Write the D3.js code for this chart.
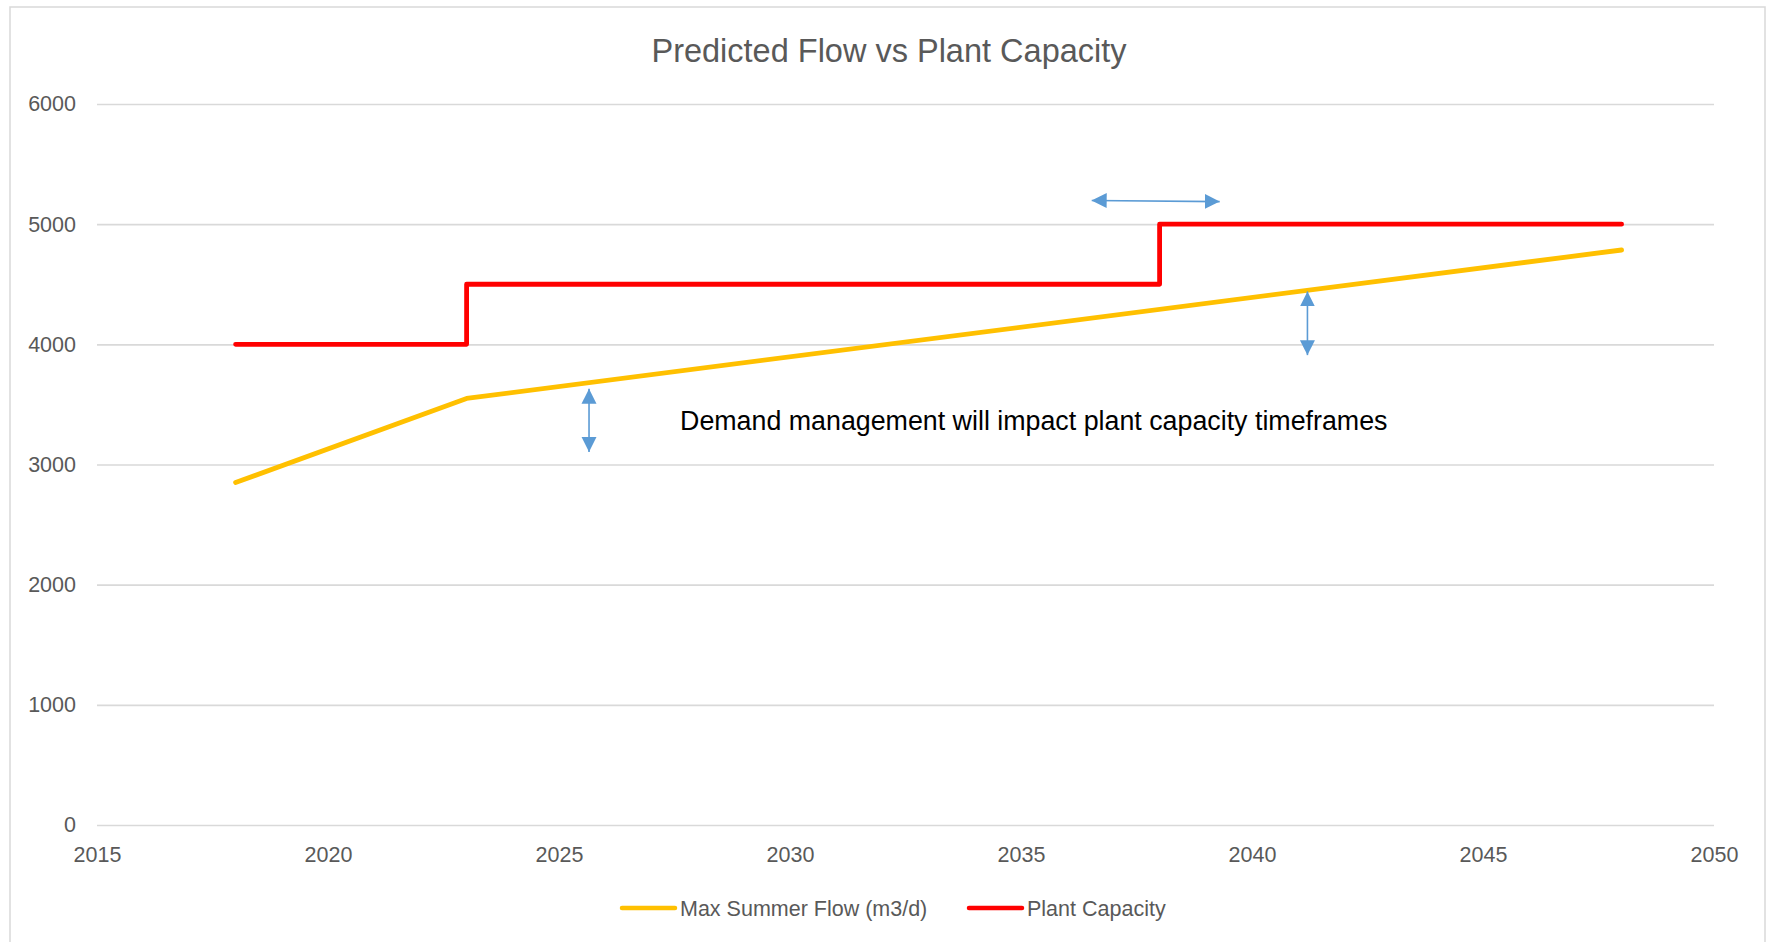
<!DOCTYPE html>
<html>
<head>
<meta charset="utf-8">
<script src="https://cdn.jsdelivr.net/npm/d3@7"></script>
<style>
  html, body { margin: 0; padding: 0; background: #fff; }
  svg { display: block; }
  text { font-family: "Liberation Sans", Arial, sans-serif; }
</style>
</head>
<body>
<svg id="chart" width="1772" height="942"></svg>
<script>
// ---- Data ----
const chartTitle = "Predicted Flow vs Plant Capacity";
const flowYears = [2018, 2023, 2048];
const flowValues = [2850, 3550, 4785];
const capacityYears = [2018, 2023, 2038, 2048];
const capacityValues = [4000, 4500, 5000, 5000];
const xTicks = [2015, 2020, 2025, 2030, 2035, 2040, 2045, 2050];
const yTicks = [0, 1000, 2000, 3000, 4000, 5000, 6000];
const seriesNames = ["Max Summer Flow (m3/d)", "Plant Capacity"];
const annotationText = "Demand management will impact plant capacity timeframes";
// double-headed arrows in data units: [x1, y1, x2, y2]
const arrows = [
  [2025.65, 3630, 2025.65, 3105],
  [2041.2, 4440, 2041.2, 3910],
  [2036.53, 5197, 2039.3, 5188]
];

// ---- Layout ----
const W = 1772, H = 942;
const plotLeft = 97, plotRight = 1714, plotTop = 104, plotBottom = 825;
const colors = { flow: "#FFC000", cap: "#FF0000", arrow: "#5B9BD5", grid: "#D9D9D9", text: "#595959" };

const svg = d3.select("#chart");
svg.append("rect").attr("x", 0).attr("y", 0).attr("width", W).attr("height", H).attr("fill", "#fff");
// outer chart border
svg.append("rect").attr("x", 10).attr("y", 7).attr("width", 1755).attr("height", 960)
  .attr("fill", "none").attr("stroke", colors.grid).attr("stroke-width", 1.5);

const x = d3.scaleLinear().domain([2015, 2050]).range([plotLeft, plotRight]);
const y = d3.scaleLinear().domain([0, 6000]).range([plotBottom, plotTop]);

// title
svg.append("text").attr("x", 889).attr("y", 62).attr("text-anchor", "middle")
  .attr("font-size", 32.5).attr("fill", colors.text).text(chartTitle);

// gridlines
const yAxis = d3.axisLeft(y).tickValues(yTicks).tickSize(-(plotRight - plotLeft)).tickPadding(21).tickFormat(d3.format("d"));
const gy = svg.append("g").attr("transform", `translate(${plotLeft},0)`).call(yAxis);
gy.select(".domain").remove();
gy.selectAll(".tick line").attr("stroke", colors.grid).attr("stroke-width", 1.6);
gy.selectAll(".tick text").attr("font-size", 21.5).attr("fill", colors.text)
  .attr("font-family", '"Liberation Sans", Arial, sans-serif');

const xAxis = d3.axisBottom(x).tickValues(xTicks).tickSize(0).tickPadding(22).tickFormat(d3.format("d"));
const gx = svg.append("g").attr("transform", `translate(0,${plotBottom})`).call(xAxis);
gx.select(".domain").remove();
gx.selectAll(".tick text").attr("font-size", 21.5).attr("fill", colors.text)
  .attr("font-family", '"Liberation Sans", Arial, sans-serif');

// series
const flowData = flowYears.map((d, i) => [d, flowValues[i]]);
const capData = capacityYears.map((d, i) => [d, capacityValues[i]]);

svg.append("path").datum(flowData)
  .attr("d", d3.line().x(d => x(d[0])).y(d => y(d[1])))
  .attr("fill", "none").attr("stroke", colors.flow).attr("stroke-width", 4.8)
  .attr("stroke-linecap", "round").attr("stroke-linejoin", "round");

svg.append("path").datum(capData)
  .attr("d", d3.line().x(d => x(d[0])).y(d => y(d[1])).curve(d3.curveStepAfter))
  .attr("fill", "none").attr("stroke", colors.cap).attr("stroke-width", 4.8)
  .attr("stroke-linecap", "round").attr("stroke-linejoin", "round");

// arrows
const defs = svg.append("defs");
defs.append("marker").attr("id", "head").attr("viewBox", "0 0 10 10")
  .attr("refX", 10).attr("refY", 5).attr("markerWidth", 15).attr("markerHeight", 16)
  .attr("markerUnits", "userSpaceOnUse").attr("orient", "auto-start-reverse")
  .append("path").attr("d", "M0,0 L10,5 L0,10 Z").attr("fill", colors.arrow);

svg.selectAll(".arrow").data(arrows).join("line").attr("class", "arrow")
  .attr("x1", d => x(d[0])).attr("y1", d => y(d[1]))
  .attr("x2", d => x(d[2])).attr("y2", d => y(d[3]))
  .attr("stroke", colors.arrow).attr("stroke-width", 1.6)
  .attr("marker-start", "url(#head)").attr("marker-end", "url(#head)");

// annotation
svg.append("text").attr("x", x(2027.62)).attr("y", y(3287))
  .attr("font-size", 26.8).attr("fill", "#000").text(annotationText);

// legend
const legendItems = [
  { name: seriesNames[0], color: colors.flow, x0: 622 },
  { name: seriesNames[1], color: colors.cap, x0: 969 }
];
const lg = svg.append("g");
legendItems.forEach(it => {
  lg.append("line").attr("x1", it.x0).attr("x2", it.x0 + 53).attr("y1", 908).attr("y2", 908)
    .attr("stroke", it.color).attr("stroke-width", 4.5).attr("stroke-linecap", "round");
  lg.append("text").attr("x", it.x0 + 58).attr("y", 908).attr("dy", "0.35em")
    .attr("font-size", 21.5).attr("fill", colors.text).text(it.name);
});
</script>
</body>
</html>
